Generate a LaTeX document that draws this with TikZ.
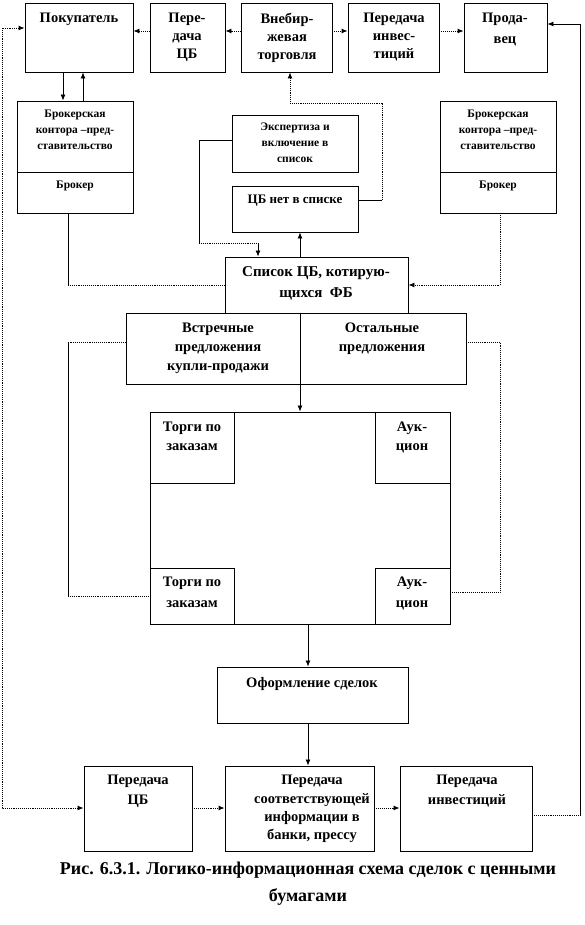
\documentclass[tikz,border=0pt]{standalone}
\usepackage{fontspec}
\setmainfont{Liberation Serif}
\usetikzlibrary{arrows.meta,fit}
\begin{document}
\begin{tikzpicture}[x=1pt,y=-1pt,
 box/.style={draw, line width=0.9pt, inner sep=0pt},
 txt/.style={font=\bfseries\fontsize{14.5}{18}\selectfont, align=center, inner sep=0pt, anchor=north},
 stxt/.style={font=\bfseries\fontsize{11.5}{16}\selectfont, align=center, inner sep=0pt, anchor=north},
 ln/.style={line width=0.8pt},
 dl/.style={line width=0.9pt, densely dotted},
 arr/.style={-{Latex[length=6pt,width=5pt]}},
 darr/.style={{Latex[length=6pt,width=5pt]}-{Latex[length=6pt,width=5pt]}},
]
\useasboundingbox (0,0) rectangle (584,925);
% boxes
\node[box, fit={(25,3) (133,72)}] (buy) {};
\node[box, fit={(150,3) (225,72)}] (pcb) {};
\node[box, fit={(241,3) (332,72)}] (vneb) {};
\node[box, fit={(348,3) (439,72)}] (pinv) {};
\node[box, fit={(464,3) (547,72)}] (prod) {};
\node[box, fit={(17,101) (133,213)}] (brL) {};
\node[box, fit={(440,101) (556,213)}] (brR) {};
\node[box, fit={(232,115) (358,172)}] (exp) {};
\node[box, fit={(232,186) (358,232)}] (net) {};
\node[box, fit={(225,257) (408,313)}] (spis) {};
\node[box, fit={(126,313) (466,384)}] (vstr) {};
\node[box, fit={(150,412) (450,624)}] (sq) {};
\node[box, fit={(150,412) (234,483)}] (t1) {};
\node[box, fit={(375,412) (450,483)}] (a1) {};
\node[box, fit={(150,568) (234,624)}] (t2) {};
\node[box, fit={(375,568) (450,624)}] (a2) {};
\node[box, fit={(217,667) (408,723)}] (ofo) {};
\node[box, fit={(84,766) (192,851)}] (bpcb) {};
\node[box, fit={(225,766) (374,851)}] (bsoo) {};
\node[box, fit={(400,766) (532,851)}] (binv) {};
% dividers
\coordinate (y172) at (0,172);
\draw[ln] (brL.west |- y172) -- (brL.east |- y172);
\draw[ln] (brR.west |- y172) -- (brR.east |- y172);
\coordinate (x300) at (300,0);
\draw[ln] (vstr.north -| x300) -- (vstr.south -| x300);
% texts
\node[txt] (tbuy) at (79,13) {Покупатель};
\node[txt] (tpcb) at (187,13) {Пере-\\дача\\ЦБ};
\node[txt] (tvneb) at (287,13) {Внебир-\\жевая\\торговля};
\node[txt] (tpinv) at (394,13) {Передача\\инвес-\\тиций};
\node[txt] (tprod) at (505,13) {Прода-\\[3pt]вец};
\node[stxt] (tbrL) at (75,110) {Брокерская\\контора –пред-\\ставительство};
\node[stxt] (tbrL2) at (75,181) {Брокер};
\node[stxt] (tbrR) at (498,110) {Брокерская\\контора –пред-\\ставительство};
\node[stxt] (tbrR2) at (498,181) {Брокер};
\node[stxt] (texp) at (295,123) {Экспертиза и\\включение в\\список};
\node[txt, font=\bfseries\fontsize{13}{16}\selectfont] (tnet) at (295,195) {ЦБ нет в списке};
\node[txt, font=\bfseries\fontsize{15}{21}\selectfont] (tspis) at (316,266) {Список ЦБ, котирую-\\щихся~~ФБ};
\node[txt, font=\bfseries\fontsize{14.5}{19}\selectfont] (tvstr) at (218,323) {Встречные\\предложения\\купли-продажи};
\node[txt, font=\bfseries\fontsize{14.5}{19}\selectfont] (tost) at (382,323) {Остальные\\предложения};
\node[txt, font=\bfseries\fontsize{14.5}{19}\selectfont] (tt1) at (192,422) {Торги по\\заказам};
\node[txt, font=\bfseries\fontsize{14.5}{19}\selectfont] (ta1) at (412,422) {Аук-\\цион};
\node[txt, font=\bfseries\fontsize{14.5}{21}\selectfont] (tt2) at (192,577) {Торги по\\заказам};
\node[txt, font=\bfseries\fontsize{14.5}{21}\selectfont] (ta2) at (412,577) {Аук-\\цион};
\node[txt] (tofo) at (312,677) {Оформление сделок};
\node[txt, font=\bfseries\fontsize{14.5}{20}\selectfont] (tbpcb) at (138,775) {Передача\\ЦБ};
\node[txt, font=\bfseries\fontsize{14.5}{18.3}\selectfont] (tbsoo) at (312,775) {Передача\\соответствующей\\информации в\\банки, прессу};
\node[txt, font=\bfseries\fontsize{14.5}{20}\selectfont] (tbinv) at (467,775) {Передача\\инвестиций};
\node[txt, font=\bfseries\fontsize{18}{27}\selectfont] (cap) at (308,862) {Рис. 6.3.1. Логико-информационная схема сделок с ценными\\бумагами};
% connectors
\coordinate (y31) at (0,31);
\draw[dl,arr] (vneb.west |- y31) -- (pcb.east |- y31);
\draw[dl,arr] (pcb.west |- y31) -- (buy.east |- y31);
\draw[dl,arr] (vneb.east |- y31) -- (pinv.west |- y31);
\draw[dl,arr] (pinv.east |- y31) -- (prod.west |- y31);
\coordinate (x63) at (63,0);
\coordinate (x83) at (83,0);
\draw[ln,arr] (buy.south -| x63) -- (brL.north -| x63);
\draw[ln,arr] (brL.north -| x83) -- (buy.south -| x83);
\coordinate (n1) at (382,200);
\coordinate (n2) at (382,103);
\coordinate (n3) at (290,103);
\draw[ln] (net.east |- n1) -- (n1);
\draw[dl,arr] (n1) -- (n2) -- (n3) -- (vneb.south -| n3);
\coordinate (e1) at (199,140);
\coordinate (e2) at (199,243);
\coordinate (e3) at (258,243);
\draw[ln] (exp.west |- e1) -- (e1) -- (e2);
\draw[dl] (e2) -- (e3);
\draw[ln,arr] (e3) -- (spis.north -| e3);
\draw[ln,arr] (spis.north -| x300) -- (net.south -| x300);
\coordinate (b1) at (68,285);
\draw[ln] (brL.south -| b1) -- (b1);
\draw[dl] (b1) -- (spis.west |- b1);
\coordinate (b2) at (500,285);
\draw[dl,arr] (brR.south -| b2) -- (b2) -- (spis.east |- b2);
\draw[ln,arr] (vstr.south -| x300) -- (sq.north -| x300);
\coordinate (l1) at (68,342);
\coordinate (l2) at (68,596);
\draw[dl] (vstr.west |- l1) -- (l1);
\draw[ln] (l1) -- (l2);
\draw[dl] (l2) -- (t2.west |- l2);
\coordinate (r1) at (500,342);
\coordinate (r2) at (500,592);
\draw[dl] (vstr.east |- r1) -- (r1) -- (r2) -- (a2.east |- r2);
\coordinate (x308) at (308,0);
\draw[ln,arr] (sq.south -| x308) -- (ofo.north -| x308);
\draw[ln,arr] (ofo.south -| x308) -- (bsoo.north -| x308);
\coordinate (L1) at (2,808);
\coordinate (L2) at (2,28);
\draw[dl,darr] (bpcb.west |- L1) -- (L1) -- (L2) -- (buy.west |- L2);
\coordinate (y808) at (0,808);
\draw[dl,arr] (bpcb.east |- y808) -- (bsoo.west |- y808);
\draw[dl,arr] (bsoo.east |- y808) -- (binv.west |- y808);
\coordinate (R1) at (580,815);
\coordinate (R2) at (580,24);
\draw[dl] (binv.east |- R1) -- (R1);
\draw[ln,arr] (R1) -- (R2) -- (prod.east |- R2);
\end{tikzpicture}
\end{document}
